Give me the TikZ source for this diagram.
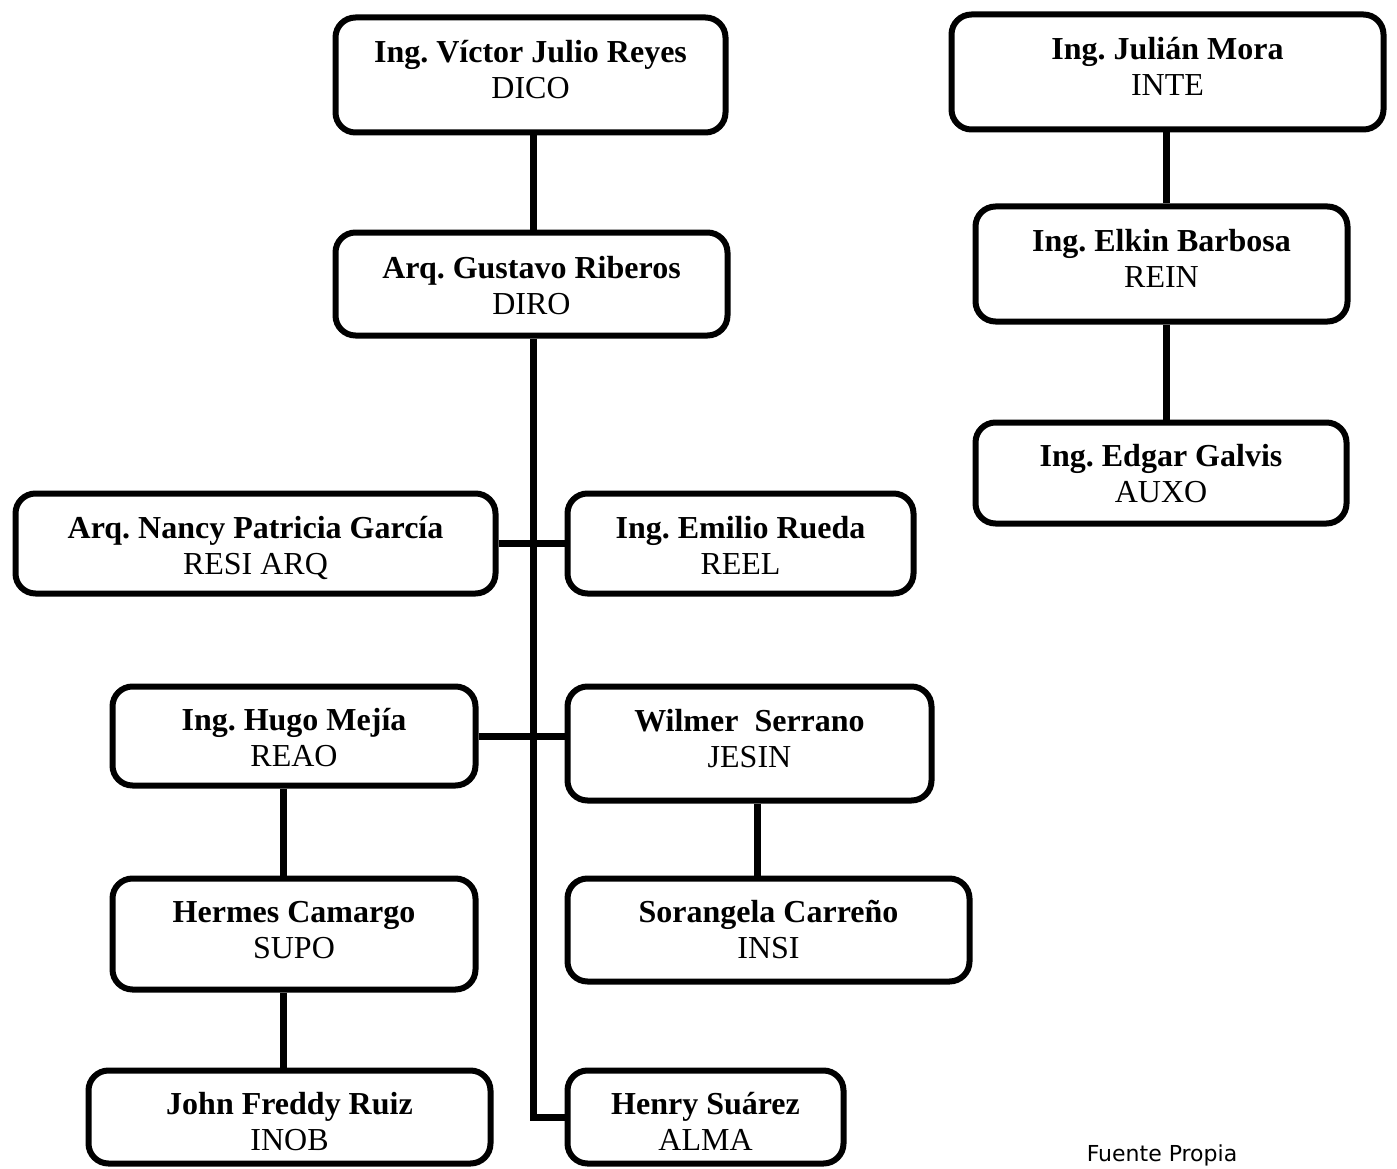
\documentclass[tikz,border=0pt]{standalone}
\usepackage{fontspec}
\setmainfont{Liberation Serif}
\newfontfamily\notefont{DejaVu Sans}
\frenchspacing
\begin{document}
\begin{tikzpicture}[x=1pt,y=-1pt,
  orgbox/.style={draw=black,line width=6pt,rounded corners=20pt,fill=white,inner sep=0pt},
  orgtext/.style={inner sep=0pt,align=center,font=\fontsize{32}{36}\selectfont},
  link/.style={draw=black,line width=7pt}]
\useasboundingbox (0,0) rectangle (1397,1169);
\newcommand{\orgnode}[8]{%
  \node[orgbox,minimum width={#4-#2-5},minimum height={#5-#3-5}] (#1)
    at ({(#2+#4)/2},{(#3+#5)/2}) {};
  \node[orgtext] (#1-t) at ({(#2+#4)/2},{#6+3.5}) {\strut\textbf{#7}\\\strut #8};}
\orgnode{victor}{333}{15}{728}{135}{70}{Ing. Víctor Julio Reyes}{DICO}
\orgnode{gustavo}{333}{230}{730}{338}{285.5}{Arq. Gustavo Riberos}{DIRO}
\orgnode{nancy}{13}{491}{498}{596}{546}{Arq. Nancy Patricia García}{RESI ARQ}
\orgnode{emilio}{565}{491}{916}{596}{546}{Ing. Emilio Rueda}{REEL}
\orgnode{hugo}{110}{684}{478}{788}{738}{Ing. Hugo Mejía}{REAO}
\orgnode{wilmer}{565}{684}{934}{803}{738.5}{Wilmer\ \ Serrano}{JESIN}
\orgnode{hermes}{110}{876}{478}{992}{930}{Hermes Camargo}{SUPO}
\orgnode{sorangela}{565}{876}{972}{984}{930}{Sorangela Carreño}{INSI}
\orgnode{john}{86}{1068}{493}{1166}{1122}{John Freddy Ruiz}{INOB}
\orgnode{henry}{565}{1068}{846}{1166}{1122}{Henry Suárez}{ALMA}
\orgnode{julian}{949}{12}{1386}{132}{66.5}{Ing. Julián Mora}{INTE}
\orgnode{elkin}{973}{204}{1350}{324}{259}{Ing. Elkin Barbosa}{REIN}
\orgnode{edgar}{973}{420}{1349}{526}{474}{Ing. Edgar Galvis}{AUXO}
\coordinate (trunk) at (533,1120);
\draw[link] ([xshift=2.5pt]victor.south) -- ([xshift=2.5pt]victor.south |- gustavo.north);
\draw[link] ([xshift=1.5pt]gustavo.south) -- (trunk |- henry.west) -- (henry.west);
\draw[link] (nancy.east |- 0,543) -- (emilio.west |- 0,543);
\draw[link] (hugo.east |- 0,736) -- (wilmer.west |- 0,736);
\draw[link] ([xshift=-11pt]hugo.south) -- ([xshift=-11pt]hugo.south |- hermes.north);
\draw[link] ([xshift=-11pt]hermes.south) -- ([xshift=-11pt]hermes.south |- john.north);
\draw[link] ([xshift=7.5pt]wilmer.south) -- ([xshift=7.5pt]wilmer.south |- sorangela.north);
\draw[link] ([xshift=-1.5pt]julian.south) -- ([xshift=-1.5pt]julian.south |- elkin.north);
\draw[link] ([xshift=4.5pt]elkin.south) -- ([xshift=4.5pt]elkin.south |- edgar.north);
\node[font=\notefont\fontsize{22}{26}\selectfont] (src) at (1162,1155) {Fuente Propia};
\end{tikzpicture}
\end{document}
